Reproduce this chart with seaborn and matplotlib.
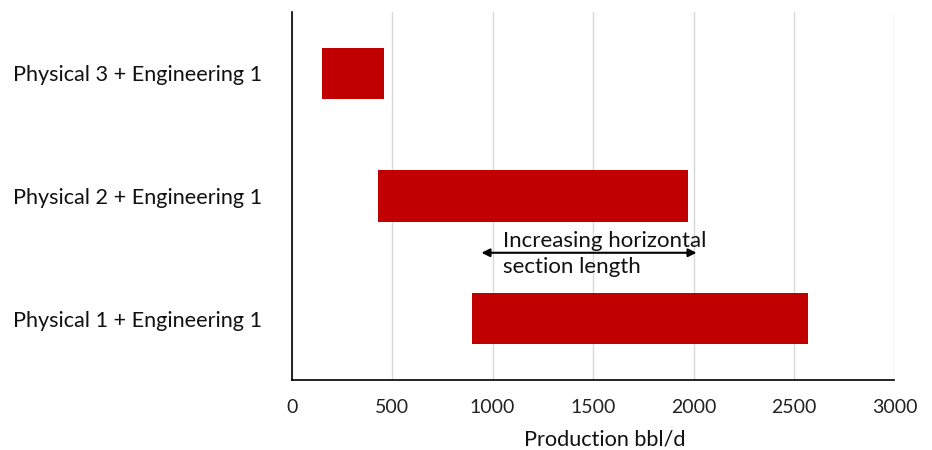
import matplotlib
matplotlib.use("Agg")
import matplotlib.pyplot as plt
import seaborn as sns
import pandas as pd

# Production ranges per design scenario (bbl/d)
scenarios = [
    "Physical 3 + Engineering 1",
    "Physical 2 + Engineering 1",
    "Physical 1 + Engineering 1",
]
range_low = [150, 430, 900]
range_high = [460, 1975, 2570]

# Horizontal-section arrow span and caption
arrow_from = 945
arrow_to = 2015
arrow_text = "Increasing horizontal\nsection length"

df = pd.DataFrame({
    "scenario": scenarios,
    "low": range_low,
    "span": [h - l for l, h in zip(range_low, range_high)],
})

sns.set_theme(style="white")
plt.rcParams["font.family"] = ["Lato", "DejaVu Sans"]

fig = plt.figure(figsize=(9.32, 4.5), dpi=100)
ax = fig.add_axes([0.3129, 0.1556, 0.6468, 0.8178])

sns.barplot(
    data=df, y="scenario", x="span", orient="h",
    left=df["low"].to_numpy(), color="#C00000", saturation=1,
    width=0.42, edgecolor="none", ax=ax,
)

ax.set_xlim(0, 3000)
ax.set_ylim(2.5, -0.5)
ax.set_xticks(range(0, 3001, 500))
ax.xaxis.grid(True, color="#D9D9D9", linewidth=1.0)
ax.yaxis.grid(False)
ax.set_axisbelow(True)

for side in ("top", "right"):
    ax.spines[side].set_visible(False)
for side in ("left", "bottom"):
    ax.spines[side].set_color("#000000")
    ax.spines[side].set_linewidth(1.2)

ax.tick_params(axis="x", length=0, pad=14, labelsize=14, colors="#222222")
ax.tick_params(axis="y", length=0, pad=21, labelsize=15.6, colors="#111111")
ax.set_ylabel("")
ax.set_xlabel("Production bbl/d", fontsize=15.6, color="#111111", labelpad=10)
ax.xaxis.set_label_coords(0.52, -0.135)

ax.annotate(
    "", xy=(arrow_from, 1.463), xytext=(arrow_to, 1.463),
    arrowprops=dict(arrowstyle="<|-|>", color="#000000", lw=1.5,
                    mutation_scale=12, shrinkA=0, shrinkB=0),
)
ax.text(1052, 1.475, arrow_text, ha="left", va="center", fontsize=16,
        color="#111111", linespacing=1.4)

fig.savefig("out.png", dpi=100, facecolor="white")
